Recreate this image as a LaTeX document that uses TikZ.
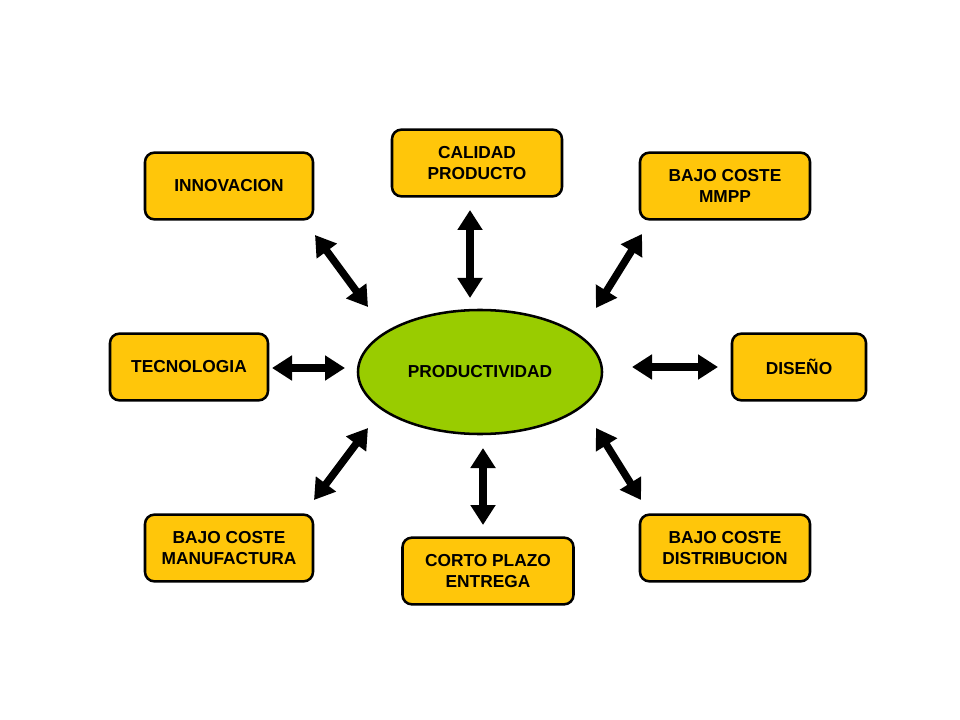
\documentclass[tikz,border=0pt]{standalone}
\usepackage{fontspec}
\setmainfont{Liberation Sans}
\usetikzlibrary{arrows.meta,shapes.geometric}
\definecolor{boxfill}{HTML}{FFC60A}
\definecolor{ellfill}{HTML}{99CC00}
\begin{document}
\begin{tikzpicture}[x=0.75pt,y=-0.75pt,
  box/.style={draw=black,line width=1.9pt,fill=boxfill,rounded corners=7pt,
    minimum width=#1*0.75pt,minimum height=50pt,align=center,
    font=\fontsize{13}{16}\selectfont\bfseries,inner sep=0pt},
  box/.default=168,
  dblarrow/.style={line width=5.6pt,{Triangle[width=18pt,length=15pt]}-{Triangle[width=18pt,length=15pt]}}]
\path[use as bounding box,fill=white] (0,0) rectangle (960,720);
% central ellipse
\node[ellipse,draw=black,line width=1.9pt,fill=ellfill,minimum width=183pt,minimum height=93pt,
  font=\fontsize{13}{16}\selectfont\bfseries] (prod) at (480,372) {PRODUCTIVIDAD};
% boxes
\node[box=168] (inno) at (229,186) {INNOVACION};
\node[box=170] (cal)  at (477,163) {CALIDAD\\PRODUCTO};
\node[box=170] (mmpp) at (725,186) {BAJO COSTE\\MMPP};
\node[box=158] (tec)  at (189,367) {TECNOLOGIA};
\node[box=134] (dis)  at (799,367) {DISEÑO};
\node[box=168] (manu) at (229,548) {BAJO COSTE\\MANUFACTURA};
\node[box=171] (corto) at (488,571) {CORTO PLAZO\\ENTREGA};
\node[box=170] (dist) at (725,548) {BAJO COSTE\\DISTRIBUCION};
% arrow end points
\coordinate (a1) at (470,210); \coordinate (b1) at (470,298);
\coordinate (a2) at (483,448); \coordinate (b2) at (483,525);
\coordinate (a3) at (272,368); \coordinate (b3) at (345,368);
\coordinate (a4) at (632,367); \coordinate (b4) at (718,367);
\coordinate (a5) at (315,235); \coordinate (b5) at (368,307);
\coordinate (a6) at (642,234); \coordinate (b6) at (596,308);
\coordinate (a7) at (368,428); \coordinate (b7) at (314,500);
\coordinate (a8) at (596,428); \coordinate (b8) at (641,500);
\foreach \i in {1,...,8} \draw[dblarrow] (a\i) -- (b\i);
\end{tikzpicture}
\end{document}
